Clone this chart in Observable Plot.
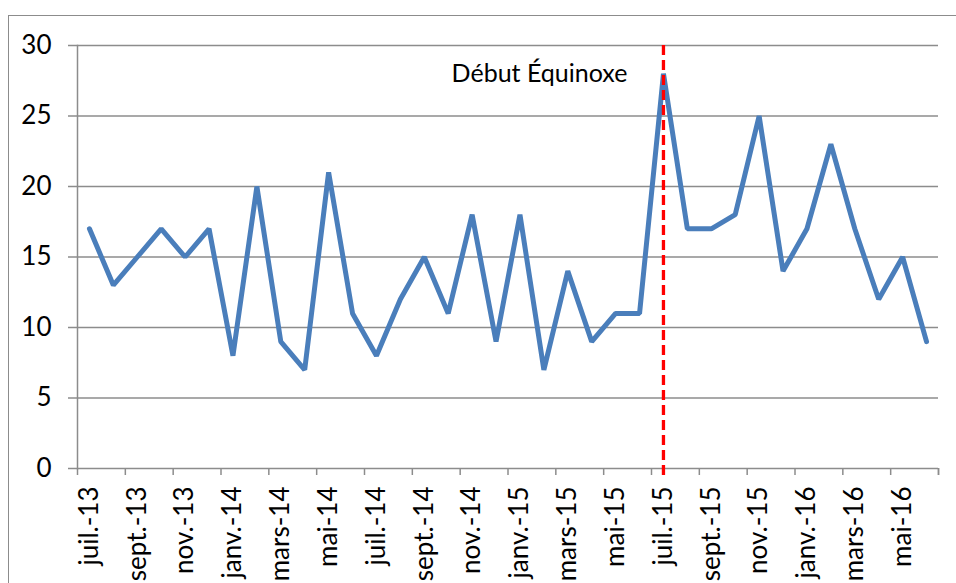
<!DOCTYPE html>
<html><head><meta charset="utf-8">
<script src="https://cdn.jsdelivr.net/npm/d3@7"></script>
<script src="https://cdn.jsdelivr.net/npm/@observablehq/plot@0.6"></script>
<style>
body{margin:0;background:#fff}
#wrap{position:relative;width:956px;height:583px;overflow:hidden}
#wrap svg{display:block}
#border{position:absolute;left:8px;top:15px;width:1000px;height:1000px;border-left:1.5px solid #8c8c8c;border-top:1.5px solid #8c8c8c;pointer-events:none}
</style>
</head><body>
<div id="wrap"><div id="border"></div></div>
<script>
const months = ["juil.-13","août-13","sept.-13","oct.-13","nov.-13","déc.-13",
  "janv.-14","févr.-14","mars-14","avr.-14","mai-14","juin-14",
  "juil.-14","août-14","sept.-14","oct.-14","nov.-14","déc.-14",
  "janv.-15","févr.-15","mars-15","avr.-15","mai-15","juin-15",
  "juil.-15","août-15","sept.-15","oct.-15","nov.-15","déc.-15",
  "janv.-16","févr.-16","mars-16","avr.-16","mai-16","juin-16"];
const values = [17,13,15,17,15,17, 8,20,9,7,21,11, 8,12,15,11,18,9, 18,7,14,9,11,11, 28,17,17,18,25,14, 17,23,17,12,15,9];
const yTicks = [0,5,10,15,20,25,30];
const eventMonth = "juil.-15";
const eventLabel = "Début Équinoxe";
const eventLabelLevel = 28;

const data = months.map((m, i) => ({i, m, v: values[i]}));
const eventIdx = months.indexOf(eventMonth);
const labelTicks = months.map((m, i) => i).filter(i => i % 2 === 0);
const boundaryTicks = d3.range(-0.5, months.length, 2).concat([months.length - 0.5]);
const grid = "#8c8c8c";
const font = "Lato, 'Open Sans', sans-serif";

const chart = Plot.plot({
  width: 956, height: 583,
  marginLeft: 77, marginRight: 18, marginTop: 45, marginBottom: 115,
  style: {fontFamily: font, background: "transparent", overflow: "visible", color: "#000"},
  x: {type: "linear", domain: [-0.5, months.length - 0.5], label: null},
  y: {domain: [0, 30], label: null},
  marks: [
    Plot.ruleY(yTicks, {stroke: grid, strokeWidth: 1.5, insetLeft: -9}),
    Plot.frame({anchor: "left", stroke: grid, strokeWidth: 1.5}),
    Plot.axisY({ticks: yTicks, tickSize: 0, tickPadding: 26, fontSize: 26, fontFamily: font, fill: "#000", label: null}),
    Plot.axisX({ticks: boundaryTicks, tickSize: 7, tickFormat: () => "", stroke: grid, strokeWidth: 1.5, label: null}),
    Plot.axisX({ticks: labelTicks, tickSize: 0, tickPadding: 18, tickRotate: -90, tickFormat: i => months[i], fontSize: 26, fontFamily: font, fill: "#000", label: null}),
    Plot.line(data, {x: "i", y: "v", stroke: "#4a7ebb", strokeWidth: 5, strokeLinejoin: "miter"}),
    Plot.text([{i: eventIdx, v: eventLabelLevel, t: eventLabel}], {x: "i", y: "v", text: "t", textAnchor: "end", dx: -36, fontSize: 25, fontFamily: font, fill: "#000"}),
    Plot.ruleX([eventIdx], {stroke: "#ff0000", strokeWidth: 3.3, strokeDasharray: "10,5", insetBottom: -12})
  ]
});
document.getElementById("wrap").prepend(chart);
</script>
</body></html>
